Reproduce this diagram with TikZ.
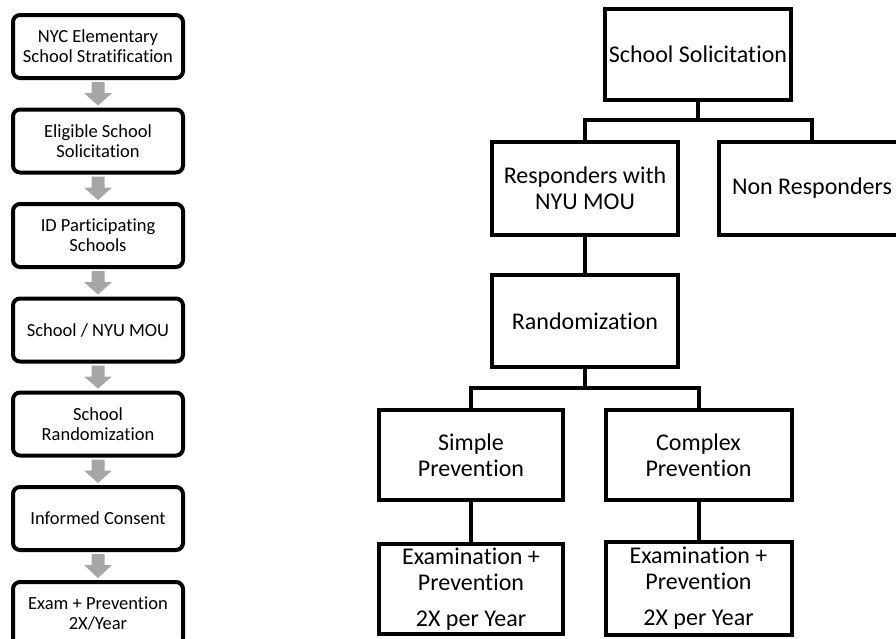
\documentclass[tikz,border=0pt]{standalone}
\usepackage{fontspec}
\setmainfont{Carlito}[Ligatures=NoCommon]
\usetikzlibrary{calc}
\definecolor{arrowgray}{HTML}{A6A6A6}
\tikzset{
  flowbox/.style={draw=black, line width=4pt, rounded corners=7pt, fill=white,
    minimum width=170pt, minimum height=63pt, align=center, inner sep=2pt,
    font=\fontsize{18.5}{20}\selectfont},
  treebox/.style={draw=black, line width=4pt, fill=white, align=center, inner sep=2pt,
    minimum width=186pt, font=\fontsize{24}{26}\selectfont},
  link/.style={line width=4pt, draw=black},
  downarrow/.style={fill=arrowgray, draw=none}
}
\begin{document}
\begin{tikzpicture}[x=1pt,y=-1pt]
\useasboundingbox (0,0) rectangle (896,638);
% left flow
\node[flowbox] (f1) at (98,46.5) {NYC Elementary\\School Stratification};
\node[flowbox] (f2) at (98,141) {Eligible School\\Solicitation};
\node[flowbox] (f3) at (98,235.5) {ID Participating\\Schools};
\node[flowbox] (f4) at (98,330) {School / NYU MOU};
\node[flowbox] (f5) at (98,424) {School\\Randomization};
\node[flowbox] (f6) at (98,518.5) {Informed Consent};
\node[flowbox] (f7) at (98,613.5) {Exam + Prevention\\2X/Year};
\foreach \a/\b in {f1/f2,f2/f3,f3/f4,f4/f5,f5/f6,f6/f7}{
  \fill[downarrow] ($(\a.south)+(-6.5,2)$) -- ($(\a.south)+(6.5,2)$) -- ($(\a.south)+(6.5,13)$)
    -- ($(\a.south)+(14,13)$) -- ($(\b.north)+(0,-2)$) -- ($(\a.south)+(-14,13)$)
    -- ($(\a.south)+(-6.5,13)$) -- cycle;
}
% tree
\node[treebox, minimum height=91pt] (ss) at (698,54.5) {School Solicitation};
\node[treebox, minimum height=93pt] (resp) at (585,188.5) {Responders with\\NYU MOU};
\node[treebox, minimum height=93pt] (nonr) at (812,188.5) {Non Responders};
\node[treebox, minimum height=92pt] (rand) at (585,321) {Randomization};
\node[treebox, minimum height=90pt, minimum width=184pt] (simp) at (471,455) {Simple\\Prevention};
\node[treebox, minimum height=90pt] (comp) at (698.5,455) {Complex\\Prevention};
\node[treebox, minimum height=90pt, minimum width=184pt] (ex1) at (471,589) {Examination +\\Prevention\\[10pt]2X per Year};
\node[treebox, minimum height=93pt] (ex2) at (698.5,588.5) {Examination +\\Prevention\\[10pt]2X per Year};
\coordinate (j1) at (698,120);
\coordinate (j2) at (585,388);
\draw[link] (ss.south) -- (j1);
\draw[link] (resp.north) |- (j1) -| (nonr.north);
\draw[link] (resp.south) -- (rand.north);
\draw[link] (rand.south) -- (j2);
\draw[link] (simp.north) |- (j2) -| (comp.north);
\draw[link] (simp.south) -- (ex1.north);
\draw[link] (comp.south) -- (ex2.north);
\end{tikzpicture}
\end{document}
